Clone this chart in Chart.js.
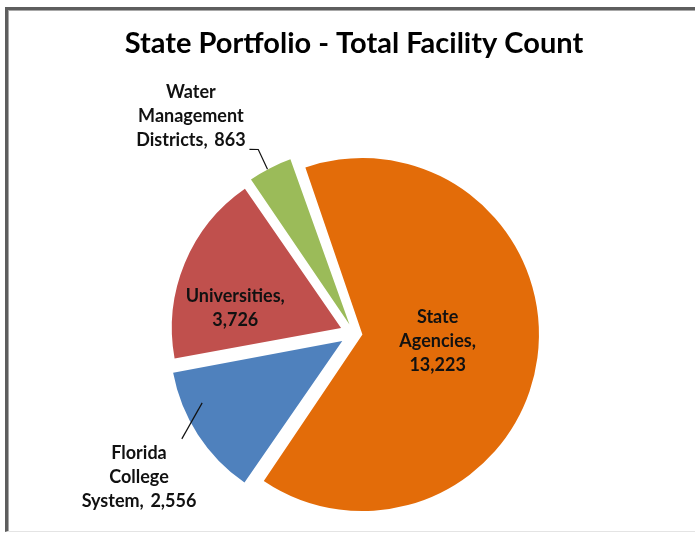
<!DOCTYPE html>
<html>
<head>
<meta charset="utf-8">
<script src="https://cdn.jsdelivr.net/npm/chart.js@4.4.1/dist/chart.umd.min.js"></script>
<style>
  html, body { margin: 0; padding: 0; background: #fff; overflow: hidden; }
  #frame {
    position: absolute; left: 5px; top: 7px; width: 720px; height: 521px;
    border-left: 3px solid #5e5e5e; border-top: 3px solid #5e5e5e;
    border-bottom: 1px solid #e4e4e4;
    box-shadow: inset 1px 1px 0 #a8a8a8;
  }
  #chart { position: absolute; left: 0; top: 0; }
</style>
</head>
<body>
<div id="frame"></div>
<canvas id="chart" width="695" height="533"></canvas>
<script>
// data
const categories = ["State Agencies", "Florida College System", "Universities", "Water Management Districts"];
const facilityCounts = [13223, 2556, 3726, 863];

// styling
const sliceColors = ["#E36C09", "#4F81BD", "#C0504D", "#9BBB59"];
const sliceOffsets = [34, 56, 56, 40];   // explode distance (chart.js moves a slice by offset/4)
const wordsPerLine = [[1, 1, 1], [1, 1, 2], [1, 1], [1, 1, 2]];

// label anchors: angle clockwise from 12 o'clock, distance in pie radii
const labelAnchors = [
    { a: 95.5, d: 0.50 },
    { a: 236.2, d: 1.54 },
    { a: 282.2, d: 0.723 },
    { a: 323.1, d: 1.617 }
];
const leaderLines = [
    null,
    [{ a: 238.5, d: 1.202 }, { a: 245.4, d: 0.994 }],
    null,
    [{ a: 330.4, d: 1.260 }, { a: 332.5, d: 1.234 }, { a: 332.2, d: 1.104 }]
];

function polar(cx, cy, r, p) {
    const rad = p.a * Math.PI / 180;
    return [cx + p.d * r * Math.sin(rad), cy - p.d * r * Math.cos(rad)];
}

function labelLines(i) {
    const words = categories[i].split(" ");
    words[words.length - 1] += ",";
    words.push("\u2009" + facilityCounts[i].toLocaleString("en-US"));
    const lines = [];
    let k = 0;
    wordsPerLine[i].forEach(n => {
        lines.push(words.slice(k, k + n).join(" ").trim());
        k += n;
    });
    return lines;
}

// draws the data labels and leader lines
const sliceLabels = {
    id: "sliceLabels",
    afterDatasetsDraw(chart) {
        const ctx = chart.ctx;
        const meta = chart.getDatasetMeta(0);
        ctx.save();
        ctx.font = "bold 18px Lato";
        ctx.fillStyle = "#111";
        ctx.textAlign = "center";
        ctx.textBaseline = "middle";
        ctx.strokeStyle = "#111";
        ctx.lineWidth = 1.2;
        meta.data.forEach((arc, i) => {
            const { x, y, outerRadius } = arc.getProps(["x", "y", "outerRadius"], true);
            const lines = labelLines(i);
            const [lx, ly] = polar(x, y, outerRadius, labelAnchors[i]);
            const lh = 24;
            const top = ly - (lines.length - 1) * lh / 2;
            lines.forEach((t, j) => ctx.fillText(t, lx, top + j * lh));
            if (leaderLines[i]) {
                ctx.beginPath();
                leaderLines[i].forEach((p, j) => {
                    const [px, py] = polar(x, y, outerRadius, p);
                    if (j === 0) ctx.moveTo(px, py); else ctx.lineTo(px, py);
                });
                ctx.stroke();
            }
        });
        ctx.restore();
    }
};

const ctx = document.getElementById("chart").getContext("2d");

new Chart(ctx, {
    type: "pie",
    data: {
        labels: categories,
        datasets: [{
            data: facilityCounts,
            backgroundColor: sliceColors,
            borderWidth: 0,
            offset: sliceOffsets,
            hoverOffset: 0
        }]
    },
    options: {
        responsive: false,
        animation: false,
        events: [],
        rotation: -19.3,
        radius: 168,
        layout: { padding: { left: 13, right: 0, top: 0, bottom: 0 } },
        plugins: {
            legend: { display: false },
            tooltip: { enabled: false },
            title: {
                display: true,
                text: "State Portfolio - Total Facility Count",
                color: "#000",
                font: { family: "Lato", size: 29, weight: "bold" },
                padding: { top: 26, bottom: 73 }
            }
        }
    },
    plugins: [sliceLabels]
});
</script>
</body>
</html>
